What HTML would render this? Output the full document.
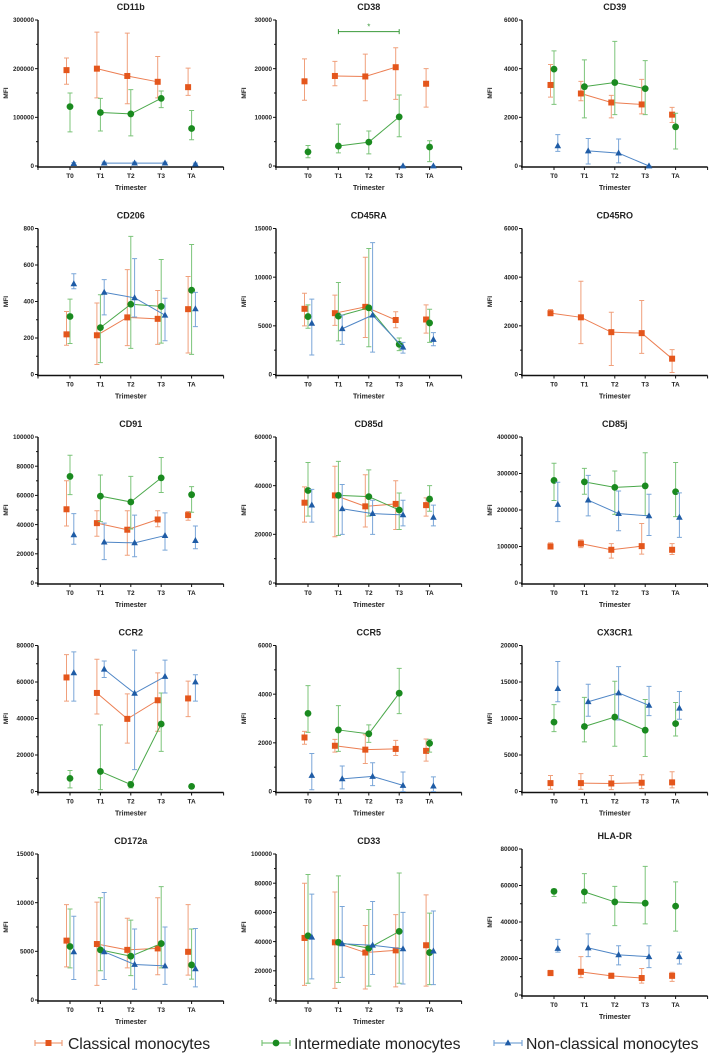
<!DOCTYPE html>
<html><head><meta charset="utf-8">
<style>
html,body{margin:0;padding:0;background:#fff;}
svg{display:block;font-family:"Liberation Sans",sans-serif;}
</style></head>
<body>
<svg id="fig" width="709" height="1056" viewBox="0 0 709 1056" xmlns="http://www.w3.org/2000/svg"></svg>
<script>
const categories = ["T0","T1","T2","T3","TA"];
const seriesNames = ["Classical monocytes","Intermediate monocytes","Non-classical monocytes"];
const panelTitles = ["CD11b","CD38","CD39","CD206","CD45RA","CD45RO","CD91","CD85d","CD85j","CCR2","CCR5","CX3CR1","CD172a","CD33","HLA-DR"];
const yMax = [300000,30000,6000,800,15000,6000,100000,60000,400000,80000,6000,20000,15000,100000,80000];
const yStep = [100000,10000,2000,200,5000,2000,20000,20000,100000,20000,2000,5000,5000,20000,20000];
// each: [mean, low, high] per category, null = missing
const classical = [
 [[197000,168000,222000],[200000,140000,275000],[185000,128000,273000],[173000,140000,225000],[162000,145000,201000]],
 [[17400,13500,22000],[18500,16500,21500],[18400,13400,23000],[20300,13700,24300],[16900,12100,20000]],
 [[3330,2830,4170],[2980,2680,3480],[2610,1980,2900],[2530,2140,3560],[2110,1790,2410]],
 [[220,160,345],[215,55,392],[313,158,575],[305,165,460],[358,118,537]],
 [[6750,5000,8350],[6300,5050,8150],[6950,3800,12050],[5600,4800,6450],[5650,4250,7150]],
 [[2520,2420,2670],[2350,1270,3830],[1740,370,2560],[1700,870,3040],[650,80,1020]],
 [[50500,39000,70000],[41000,32000,49500],[36500,19000,49500],[43500,38500,49500],[46500,43000,49000]],
 [[33000,25000,39500],[36000,19000,48000],[31500,23000,44500],[32500,22000,42000],[32000,27500,35000]],
 [[100000,93000,110000],[108000,97000,118000],[91000,68000,108000],[101000,79000,163000],[91000,78000,108000]],
 [[62500,49500,75000],[54000,42500,72500],[39800,26500,53500],[50000,33000,65000],[51000,41000,60500]],
 [[2220,1940,2470],[1880,1620,2140],[1720,1150,2330],[1750,1480,2100],[1670,1250,2160]],
 [[1150,300,2200],[1150,300,2450],[1100,250,2200],[1200,400,2300],[1250,500,2700]],
 [[6100,3400,9800],[5750,1500,10050],[5150,3300,8400],[5300,2600,10500],[4950,2550,9800]],
 [[42500,10000,80000],[39500,8000,74000],[32500,7500,51000],[34000,9000,58500],[37500,9500,72000]],
 [[12000,11000,13500],[12700,9500,21000],[10500,9500,12000],[9300,6500,14500],[10500,7500,12500]]
];
const intermediate = [
 [[122000,70000,150000],[110000,72000,139000],[107000,62000,157000],[139000,120000,154000],[77000,54000,114000]],
 [[2900,1700,4200],[4100,2700,8600],[4900,2500,7200],[10100,6000,14600],[3900,900,5200]],
 [[3980,2530,4730],[3260,1980,4360],[3430,2110,5120],[3180,2110,4330],[1610,700,2170]],
 [[318,170,413],[257,65,437],[385,143,757],[373,172,630],[462,110,712]],
 [[5950,4750,7150],[6000,3450,9450],[6850,2850,12950],[3100,2450,3750],[5300,3300,6700]],
 [null,null,null,null,null],
 [[73000,60500,87500],[59500,42000,74000],[55500,37000,73000],[72000,62000,86000],[60500,48500,66000]],
 [[38000,27500,49500],[36000,19500,50000],[35500,27500,46500],[30000,22000,37000],[34500,29500,40000]],
 [[281000,226000,328000],[277000,243000,314000],[262000,188000,307000],[266000,185000,357000],[250000,182000,330000]],
 [[7200,2000,11500],[11000,1000,36500],[3800,2000,5500],[37000,22000,54000],[2800,1800,3800]],
 [[3210,2430,4350],[2530,1650,3530],[2370,2020,2740],[4040,3200,5060],[1980,1620,2140]],
 [[9500,8200,11900],[8900,6800,12900],[10200,6200,15100],[8400,4800,12600],[9300,7600,12200]],
 [[5500,3300,9350],[5150,3000,10500],[4500,2500,8200],[5800,3300,11650],[3600,2150,7300]],
 [[44000,11500,86000],[39500,12000,85000],[35500,9500,62000],[47000,11500,87000],[32500,10500,59500]],
 [[56800,54000,58000],[56500,50500,66500],[51000,38000,59500],[50300,39000,70500],[48700,35000,62000]]
];
const nonClassical = [
 [[5000,3000,7000],[6000,4000,8000],[6000,4000,8000],[6000,4000,8000],[4000,2000,6000]],
 [null,null,null,[0,0,0],[0,0,0]],
 [[830,600,1290],[620,80,1130],[530,130,1110],[0,0,0],null],
 [[497,470,552],[450,327,520],[420,315,635],[325,185,418],[360,262,450]],
 [[5250,2000,7750],[4700,3100,6100],[6100,2300,13550],[2800,2200,3300],[3600,2950,4300]],
 [null,null,null,null,null],
 [[33000,26500,47500],[28000,16000,41000],[27500,18000,46500],[32500,22500,48000],[29000,23500,39000]],
 [[32000,25000,38500],[30500,20000,40500],[28500,20000,34000],[28000,23500,34000],[27000,23500,32000]],
 [[215000,168000,276000],[227000,184000,295000],[190000,143000,252000],[184000,130000,243000],[180000,125000,247000]],
 [[65000,49500,76500],[67000,62500,71500],[53800,12000,77500],[63000,54000,72000],[60000,49500,64000]],
 [[660,70,1560],[520,110,1050],[620,240,1180],[250,0,800],[220,0,600]],
 [[14100,12300,17800],[12300,10300,14700],[13500,9800,17100],[11800,10400,14400],[11400,9900,13700]],
 [[4950,2100,8600],[4950,2100,11050],[3650,1100,7300],[3500,1600,7500],[3200,1350,7350]],
 [[43000,14500,72500],[38500,15500,64000],[37500,17500,67500],[35000,11000,60000],[33500,10500,61000]],
 [[25500,23500,30500],[25800,21000,33500],[22000,16500,27000],[21000,15000,27000],[21000,17000,23500]]
];
const lineFromT0 = [false,false,false,false,false,true,false,false,false,false,false,false,false,false,false];

const NS="http://www.w3.org/2000/svg";
const svg=document.getElementById('fig');
function el(tag,attrs,parent){const e=document.createElementNS(NS,tag);for(const k in attrs)e.setAttribute(k,attrs[k]);(parent||svg).appendChild(e);return e;}

const colT0=[70,308,554], rowTop=[20,228.5,437,645.5,854], plotH=146, catStep=30.4;
const dodge=[-3.5,0,3.8];
const markerCol=["#e4561c","#1a8a1f","#1f5ca6"];
const barCol=["#f0a07c","#7cc47a","#7aa6d8"];
const lineCol=["#ec7e52","#4aa84a","#4f86c6"];

for(let p=0;p<15;p++){
  const col=p%3,row=Math.floor(p/3);
  const t0=colT0[col];
  const top=rowTop[row]+(p===14?-5:0), zero=top+plotH;
  const ax=t0-32, axEnd=t0+4*catStep+32;
  const g=el('g',{});
  
  
  const y=v=>zero-v/yMax[p]*plotH;
  const x=(i,s)=>t0+i*catStep+dodge[s];
  const t=el('text',{x:(ax+axEnd)/2,y:top-10,'text-anchor':'middle','font-size':9,'font-weight':'bold',fill:'#222'},g);
  t.textContent=panelTitles[p];
  
  
  const yaxis=el('line',{x1:ax,y1:top,x2:ax,y2:zero+1,stroke:'#111','stroke-width':1.4},g);
  
  
  for(let v=0;v<=yMax[p]+1e-9;v+=yStep[p]/2){
    const major=Math.abs((v/yStep[p])-Math.round(v/yStep[p]))<1e-6;
    el('line',{x1:ax-(major?3:2),y1:y(v),x2:ax,y2:y(v),stroke:'#111','stroke-width':1},g);
    if(major){
      const lb=el('text',{x:ax-4,y:y(v)+2.2,'text-anchor':'end','font-size':6.3,'font-weight':'bold',fill:'#222'},g);
      lb.textContent=Math.round(v);
      
      
    }
  }
  const yt=el('text',{x:0,y:0,'text-anchor':'middle','font-size':6.5,'font-weight':'bold',fill:'#222',transform:`translate(${ax-30},${top+plotH/2}) rotate(-90)`},g);
  yt.textContent='MFI';
  
  
  const xaxis=el('line',{x1:ax-1,y1:zero+1,x2:axEnd,y2:zero+1,stroke:'#111','stroke-width':1.4},g);
  
  
  el('line',{x1:ax,y1:zero+1,x2:ax,y2:zero+4,stroke:'#111','stroke-width':1},g);
  el('line',{x1:axEnd,y1:zero+1,x2:axEnd,y2:zero+4,stroke:'#111','stroke-width':1},g);
  categories.forEach((c,i)=>{
    el('line',{x1:t0+i*catStep,y1:zero+1,x2:t0+i*catStep,y2:zero+4,stroke:'#111','stroke-width':1},g);
    const lb=el('text',{x:t0+i*catStep,y:zero+12,'text-anchor':'middle','font-size':6.5,'font-weight':'bold',fill:'#222'},g);
    lb.textContent=c;
    
    
  });
  const xt=el('text',{x:(ax+axEnd)/2,y:zero+24,'text-anchor':'middle','font-size':7,'font-weight':'bold',fill:'#222'},g);
  xt.textContent='Trimester';
  
  
  [classical,intermediate,nonClassical].forEach((ser,s)=>{
    const d=ser[p];
    const sg=el('g',{},g);
    
    
    const from=lineFromT0[p]?0:1, to=lineFromT0[p]?4:3;
    let pts=[];
    for(let i=from;i<=to;i++) if(d[i]) pts.push(x(i,s)+','+y(d[i][0]));
    if(pts.length>1){
      const pl=el('polyline',{points:pts.join(' '),fill:'none',stroke:lineCol[s],'stroke-width':1},sg);
      
      
    }
    d.forEach((v,i)=>{
      if(!v) return;
      const cx=x(i,s);
      const eb=el('path',{d:`M${cx},${y(v[1])}V${y(v[2])}M${cx-2.5},${y(v[1])}H${cx+2.5}M${cx-2.5},${y(v[2])}H${cx+2.5}`,stroke:barCol[s],'stroke-width':1,fill:'none'},sg);
      
      
      let m;
      const cy=y(v[0]);
      if(s===0) m=el('rect',{x:cx-3,y:cy-3,width:6,height:6,fill:markerCol[0]},sg);
      else if(s===1) m=el('circle',{cx:cx,cy:cy,r:3.4,fill:markerCol[1]},sg);
      else m=el('polygon',{points:`${cx},${cy-3.6} ${cx+3.3},${cy+2.4} ${cx-3.3},${cy+2.4}`,fill:markerCol[2]},sg);
      
      
    });
  });
  if(p===1){
    const yb=y(27600);
    const br=el('path',{d:`M${x(1,1)},${yb}H${x(3,1)}M${x(1,1)},${yb-2.5}V${yb+2.5}M${x(3,1)},${yb-2.5}V${yb+2.5}`,stroke:'#3a9a3a','stroke-width':1,fill:'none'},g);
    
    
    const st=el('text',{x:(x(1,1)+x(3,1))/2,y:yb-2,'text-anchor':'middle','font-size':8,fill:'#3a9a3a'},g);
    st.textContent='*';
    
    
  }
}
const legX=[[35,62,68],[262,290,294],[494,522,526]];
seriesNames.forEach((n,s)=>{
  const lg=el('g',{});
  
  
  const [a,b,tx]=legX[s], cy=1043, cx=(a+b)/2;
  el('path',{d:`M${a},${cy}H${b}M${a},${cy-3}V${cy+3}M${b},${cy-3}V${cy+3}`,stroke:barCol[s],'stroke-width':1.2,fill:'none'},lg);
  if(s===0) el('rect',{x:cx-3,y:cy-3,width:6,height:6,fill:markerCol[0]},lg);
  else if(s===1) el('circle',{cx:cx,cy:cy,r:3.4,fill:markerCol[1]},lg);
  else el('polygon',{points:`${cx},${cy-3.6} ${cx+3.3},${cy+2.4} ${cx-3.3},${cy+2.4}`,fill:markerCol[2]},lg);
  const t=el('text',{x:tx,y:cy+6,'font-size':15.8,fill:'#222','letter-spacing':'-0.1'},lg);
  t.textContent=n;
  
  
});
</script>
</body></html>
